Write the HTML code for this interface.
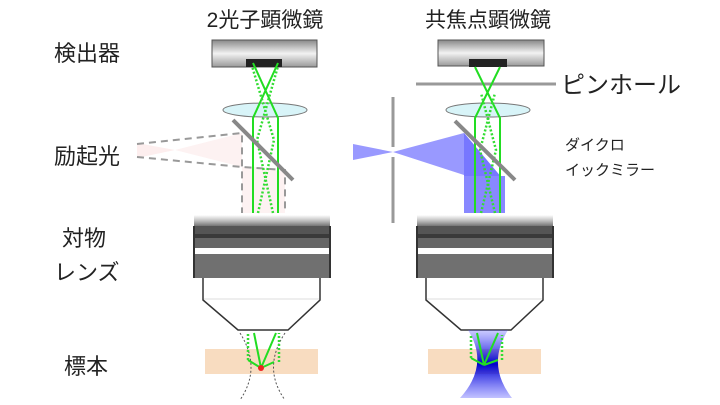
<!DOCTYPE html>
<html><head><meta charset="utf-8"><style>
body{margin:0;background:#fff;}
svg{display:block;}
text{font-family:"Liberation Sans","Noto Sans CJK JP",sans-serif;fill:#222;}
</style></head><body>
<svg width="720" height="405" viewBox="0 0 720 405" xmlns="http://www.w3.org/2000/svg">
<defs>
<linearGradient id="det" x1="0" y1="0" x2="0" y2="1">
<stop offset="0" stop-color="#888"/><stop offset="0.5" stop-color="#f2f2f2"/><stop offset="1" stop-color="#999"/>
</linearGradient>
<linearGradient id="objtop" x1="0" y1="0" x2="0" y2="1">
<stop offset="0" stop-color="#fff"/><stop offset="0.5" stop-color="#bbb"/><stop offset="1" stop-color="#666"/>
</linearGradient>
<linearGradient id="blueV" x1="0" y1="0" x2="0" y2="1">
<stop offset="0" stop-color="#55f" stop-opacity="0.3"/><stop offset="0.5" stop-color="#00c"/><stop offset="1" stop-color="#33f" stop-opacity="0.3"/>
</linearGradient>
<g id="obj">
<rect x="194" y="215" width="136" height="12" fill="url(#objtop)"/>
<rect x="194" y="226" width="136" height="8" fill="#555"/>
<rect x="194" y="234" width="136" height="4" fill="#3a3a3a"/>
<rect x="194" y="238" width="136" height="10" fill="#666"/>
<rect x="194" y="248" width="136" height="6" fill="#fff"/>
<rect x="194" y="254" width="136" height="24" fill="#707070"/>
<line x1="194" y1="226" x2="194" y2="278" stroke="#333" stroke-width="2"/>
<line x1="330" y1="226" x2="330" y2="278" stroke="#333" stroke-width="2"/>
<path d="M203 278 L203 300 L238 330 L288 330 L320 300 L320 278" fill="#fff" stroke="#333" stroke-width="1.5"/>
<line x1="204" y1="299" x2="319" y2="299" stroke="#ddd"/>
</g>
</defs>

<!-- titles -->
<text x="265" y="27" font-size="21" text-anchor="middle">2光子顕微鏡</text>
<text x="488" y="27" font-size="21" text-anchor="middle">共焦点顕微鏡</text>
<text x="54" y="61" font-size="22">検出器</text>
<text x="54" y="164" font-size="22">励起光</text>
<text x="62" y="246" font-size="22">対物</text>
<text x="54" y="280" font-size="22">レンズ</text>
<text x="64" y="374" font-size="22">標本</text>
<text x="561" y="93" font-size="24">ピンホール</text>
<text x="565" y="150" font-size="15">ダイクロ</text>
<text x="565" y="175" font-size="15">イックミラー</text>

<!-- LEFT -->
<polygon points="137,143 175,150 137,158" fill="#fdeeee"/>
<polygon points="175,150 242,133 242,213 285,213 285,172 258,167 242,167" fill="#fdf2f2"/>
<g stroke="#999" stroke-width="2" stroke-dasharray="7,5" fill="none">
<path d="M137 144 L242 133 L242 213"/>
<path d="M137 157 L242 167 L285 170 L285 213"/>
</g>
<rect x="212" y="40" width="105" height="27" fill="url(#det)" stroke="#555"/>
<rect x="246" y="59" width="36" height="8" fill="#222"/>
<ellipse cx="265" cy="110" rx="42" ry="7" fill="#d8f4f8" stroke="#777"/>
<g stroke="#22dd22" stroke-width="2" fill="none">
<path d="M253 213 L253 118 L278 63"/>
<path d="M278 213 L278 118 L253 63"/>
</g>
<g stroke="#33dd33" stroke-width="2.5" stroke-dasharray="2,2" fill="none">
<path d="M258 213 L274 140 L252 66"/>
<path d="M273 213 L257 140 L278 66"/>
</g>
<line x1="233" y1="120" x2="293" y2="180" stroke="#888" stroke-width="4"/>
<use href="#obj"/>
<rect x="205" y="349" width="113" height="25" fill="#f8dcc0"/>
<g stroke="#555" stroke-width="1" stroke-dasharray="2,2" fill="none">
<path d="M240 333 Q262 368 240 400"/>
<path d="M285 333 Q262 368 285 400"/>
</g>
<g stroke="#22dd22" stroke-width="2" fill="none">
<path d="M261 368 L254 333 M261 368 L276 333 M261 368 L248 360 M261 368 L274 362"/>
</g>
<g stroke="#33dd33" stroke-width="2.5" stroke-dasharray="2,2" fill="none">
<path d="M248 360 L248 333 M279 362 L279 333"/>
</g>
<circle cx="261" cy="368" r="3" fill="#e22"/>

<!-- RIGHT -->
<line x1="416" y1="84" x2="556" y2="84" stroke="#999" stroke-width="3"/>
<line x1="393" y1="97" x2="393" y2="147" stroke="#999" stroke-width="3"/>
<line x1="393" y1="157" x2="393" y2="223" stroke="#999" stroke-width="3"/>
<polygon points="353,144 393,152 353,160" fill="#99f"/>
<polygon points="393,152 464,133 502,178 464,175" fill="#99f"/>
<polygon points="464,133 502,178 464,178" fill="#77f"/>
<rect x="464" y="176" width="41" height="37" fill="#88f"/>
<rect x="438" y="40" width="106" height="26" fill="url(#det)" stroke="#555"/>
<rect x="469" y="59" width="38" height="8" fill="#222"/>
<ellipse cx="488" cy="110" rx="42" ry="7" fill="#d8f4f8" stroke="#777"/>
<g stroke="#22dd22" stroke-width="2" fill="none">
<path d="M475 213 L475 118 L500 67"/>
<path d="M500 213 L500 118 L475 67"/>
</g>
<g stroke="#33dd33" stroke-width="2.5" stroke-dasharray="2,2" fill="none">
<path d="M481 213 L496 150 L481 93"/>
<path d="M495 213 L480 150 L495 93"/>
</g>
<line x1="455" y1="121" x2="515" y2="180" stroke="#888" stroke-width="4"/>
<use href="#obj" transform="translate(223,0)"/>
<rect x="428" y="349" width="113" height="25" fill="#f8dcc0"/>
<path d="M468 330 L508 330 Q486 365 512 398 L460 398 Q490 365 468 330 Z" fill="url(#blueV)"/>
<g stroke="#22dd22" stroke-width="2" fill="none">
<path d="M484 365 L477 333 M484 365 L498 333 M484 365 L471 358 M484 365 L498 360"/>
</g>
<g stroke="#33dd33" stroke-width="2.5" stroke-dasharray="2,2" fill="none">
<path d="M471 358 L471 335 M502 360 L502 335"/>
</g>
</svg>
</body></html>
